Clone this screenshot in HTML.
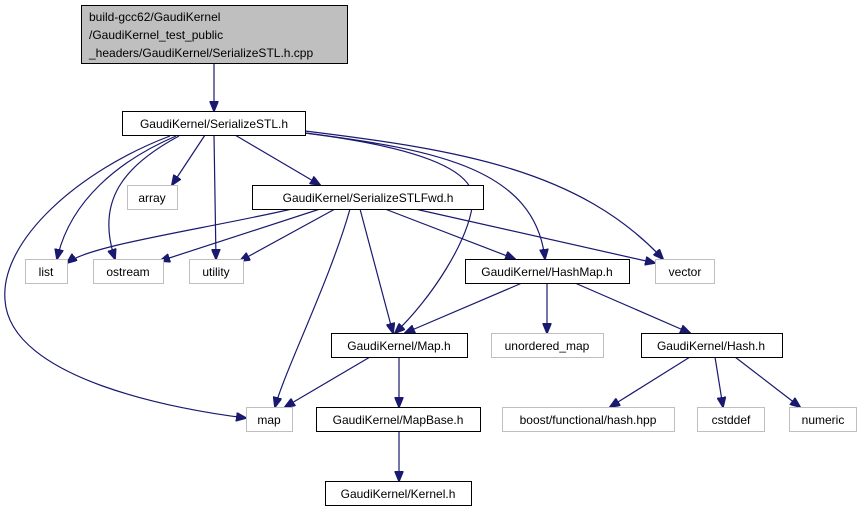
<!DOCTYPE html>
<html><head><meta charset="utf-8"><style>
html,body{margin:0;padding:0;background:#fff;}
svg{display:block;}
text{font-family:"Liberation Sans",sans-serif;font-size:12px;fill:#000;}
</style></head><body>
<svg width="861" height="515" viewBox="0 0 861 515" xmlns="http://www.w3.org/2000/svg">
<defs>
<marker id="a" markerWidth="11" markerHeight="9" refX="10" refY="4.5" orient="auto" markerUnits="userSpaceOnUse">
<path d="M0,0 L11,4.5 L0,9 z" fill="#191970" stroke="#191970"/>
</marker>
</defs>
<g fill="none" stroke="#191970" stroke-width="1.2" marker-end="url(#a)">
<path d="M214,63 L214,111"/>
<path d="M205,135 L172,185"/>
<path d="M235,135 L320,185"/>
<path d="M176,136 C120,160 70,200 57,259"/>
<path d="M179,136 C125,165 95,200 115,259"/>
<path d="M214,135 L216,259"/>
<path d="M170,136 C80,170 0,240 5,300 C10,380 180,410 246,418"/>
<path d="M305,133 C400,145 475,165 473,200 C470,240 430,300 395,333"/>
<path d="M305,133 C440,150 535,170 545,259"/>
<path d="M305,131 C460,150 580,170 663,259"/>
<path d="M292,209 C200,230 90,245 67,263"/>
<path d="M320,209 L160,261"/>
<path d="M335,209 L240,261"/>
<path d="M350,209 C330,280 285,370 275,407"/>
<path d="M360,209 L393,333"/>
<path d="M385,209 L515,259"/>
<path d="M415,209 L655,263"/>
<path d="M522,283 L405,333"/>
<path d="M547,283 L547,333"/>
<path d="M575,283 L690,333"/>
<path d="M370,357 L285,407"/>
<path d="M399,357 L399,407"/>
<path d="M690,357 L610,407"/>
<path d="M715,357 L723,407"/>
<path d="M735,357 L800,407"/>
<path d="M399,431 L399,481"/>
</g>
<g stroke-width="1">
<rect x="81.5" y="5.5" width="266" height="58" fill="#bfbfbf" stroke="#000"/>
<rect x="122.5" y="111.5" width="183" height="24" fill="#fff" stroke="#000"/>
<rect x="127.5" y="185.5" width="50" height="24" fill="#fff" stroke="#bfbfbf"/>
<rect x="252.5" y="185.5" width="231" height="24" fill="#fff" stroke="#000"/>
<rect x="25.5" y="259.5" width="42" height="24" fill="#fff" stroke="#bfbfbf"/>
<rect x="93.5" y="259.5" width="70" height="24" fill="#fff" stroke="#bfbfbf"/>
<rect x="189.5" y="259.5" width="54" height="24" fill="#fff" stroke="#bfbfbf"/>
<rect x="465.5" y="259.5" width="164" height="24" fill="#fff" stroke="#000"/>
<rect x="655.5" y="259.5" width="59" height="24" fill="#fff" stroke="#bfbfbf"/>
<rect x="331.5" y="333.5" width="136" height="24" fill="#fff" stroke="#000"/>
<rect x="491.5" y="333.5" width="112" height="24" fill="#fff" stroke="#bfbfbf"/>
<rect x="641.5" y="333.5" width="141" height="24" fill="#fff" stroke="#000"/>
<rect x="246.5" y="407.5" width="46" height="24" fill="#fff" stroke="#bfbfbf"/>
<rect x="316.5" y="407.5" width="164" height="24" fill="#fff" stroke="#000"/>
<rect x="502.5" y="407.5" width="172" height="24" fill="#fff" stroke="#bfbfbf"/>
<rect x="697.5" y="407.5" width="67" height="24" fill="#fff" stroke="#bfbfbf"/>
<rect x="789.5" y="407.5" width="67" height="24" fill="#fff" stroke="#bfbfbf"/>
<rect x="325.5" y="481.5" width="146" height="24" fill="#fff" stroke="#000"/>
</g>
<text x="89" y="21">build-gcc62/GaudiKernel</text>
<text x="89" y="39">/GaudiKernel_test_public</text>
<text x="89" y="57">_headers/GaudiKernel/SerializeSTL.h.cpp</text>
<g text-anchor="middle">
<text x="214" y="128">GaudiKernel/SerializeSTL.h</text>
<text x="152" y="202">array</text>
<text x="368" y="202">GaudiKernel/SerializeSTLFwd.h</text>
<text x="46" y="276">list</text>
<text x="128" y="276">ostream</text>
<text x="216" y="276">utility</text>
<text x="547" y="276">GaudiKernel/HashMap.h</text>
<text x="685" y="276">vector</text>
<text x="399" y="350">GaudiKernel/Map.h</text>
<text x="547" y="350">unordered_map</text>
<text x="711" y="350">GaudiKernel/Hash.h</text>
<text x="269" y="424">map</text>
<text x="398" y="424">GaudiKernel/MapBase.h</text>
<text x="588" y="424">boost/functional/hash.hpp</text>
<text x="731" y="424">cstddef</text>
<text x="823" y="424">numeric</text>
<text x="398" y="498">GaudiKernel/Kernel.h</text>
</g>
</svg>
</body></html>
